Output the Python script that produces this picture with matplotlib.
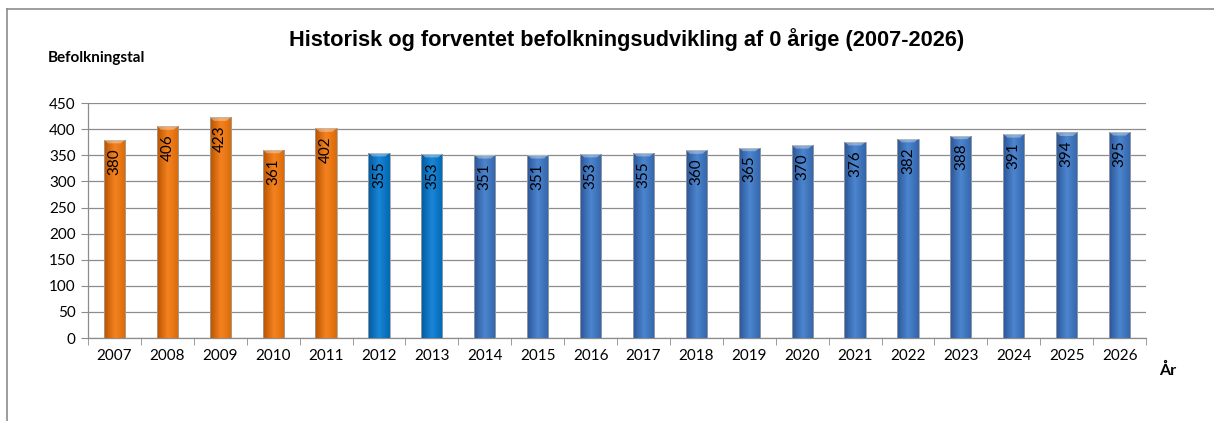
import matplotlib
matplotlib.use("Agg")
import matplotlib.pyplot as plt
import matplotlib.patches as mpatches
from matplotlib.colors import LinearSegmentedColormap
import numpy as np

# data
years = [str(y) for y in range(2007, 2027)]
values = [380, 406, 423, 361, 402, 355, 353, 351, 351, 353,
          355, 360, 365, 370, 376, 382, 388, 391, 394, 395]
groups = ['hist'] * 5 + ['prog1'] * 2 + ['prog2'] * 13
yticks = list(range(0, 451, 50))

title = 'Historisk og forventet befolkningsudvikling af 0 årige (2007-2026)'
ylabel = 'Befolkningstal'
xlabel = 'År'

# edge, middle, edge colours for the fake cylinder shading
shades = {
    'hist':  ['#B85300', '#F58220', '#D96A08'],
    'prog1': ['#005A9E', '#1A86D6', '#0068B4'],
    'prog2': ['#2B5597', '#4C86CF', '#3364AA'],
}

fig = plt.figure(figsize=(12.14, 4.21), dpi=100)
ax = fig.add_axes([0.0725, 0.197, 0.8715, 0.558])

x = np.arange(len(years))
bars = ax.bar(x, values, width=0.4, color='none', edgecolor='none', zorder=3)

for b, g, v in zip(bars, groups, values):
    cmap = LinearSegmentedColormap.from_list(g, shades[g])
    grad = np.linspace(0, 1, 64).reshape(1, -1)
    x0, w, h = b.get_x(), b.get_width(), b.get_height()
    im = ax.imshow(grad, cmap=cmap, aspect='auto', extent=(x0, x0 + w, 0, h),
                   zorder=3, interpolation='bicubic')
    im.set_clip_path(b)
    # outline
    ax.add_patch(mpatches.Rectangle((x0, 0), w, h, fill=False,
                                    edgecolor='#a0a0a0', linewidth=0.6, zorder=4))
    # lighter cap on top
    cap = mpatches.Polygon([(x0, h), (x0 + w, h), (x0 + w * 0.8, h - 7),
                            (x0 + w * 0.2, h - 7)], closed=True,
                           facecolor='white', alpha=0.35, edgecolor='none', zorder=4)
    ax.add_patch(cap)
    ax.annotate(str(v), (x0 + w / 2, h), xytext=(0, -6), textcoords='offset points',
                rotation=90, ha='center', va='top', fontsize=11, family='Lato',
                color='black', zorder=5)

ax.set_xlim(-0.5, len(years) - 0.5)
ax.set_ylim(0, 450)
ax.set_yticks(yticks)
ax.set_yticklabels([str(t) for t in yticks], family='Lato', fontsize=11)
ax.set_xticks(x)
ax.set_xticklabels(years, family='Lato', fontsize=11)
ax.tick_params(axis='x', length=0, pad=8)
ax.set_xticks(np.arange(-0.5, len(years)), minor=True)
ax.tick_params(axis='x', which='minor', length=5, color='#8c8c8c', direction='out')
ax.tick_params(axis='y', length=5, color='#8c8c8c', direction='out', pad=4)

ax.grid(axis='y', color='#8c8c8c', linewidth=0.9, zorder=0)
ax.set_axisbelow(True)
for s in ['top', 'right']:
    ax.spines[s].set_visible(False)
for s in ['left', 'bottom']:
    ax.spines[s].set_color('#8c8c8c')
    ax.spines[s].set_linewidth(0.9)

fig.text(0.516, 0.905, title, ha='center', va='center', fontsize=15.7,
         fontweight='bold', family='Liberation Sans')
fig.text(0.039, 0.862, ylabel, ha='left', va='center', fontsize=11,
         fontweight='bold', family='Lato')
fig.text(0.955, 0.12, xlabel, ha='left', va='center', fontsize=11.5,
         fontweight='bold', family='Lato')

# chart area frame (only top and left edges fall inside the image)
fig.add_artist(plt.Line2D([0.0058, 1.0], [0.979, 0.979], color='#8c8c8c', linewidth=1.2,
                          transform=fig.transFigure))
fig.add_artist(plt.Line2D([0.0058, 0.0058], [0.0, 0.979], color='#8c8c8c', linewidth=1.2,
                          transform=fig.transFigure))

fig.savefig('out.png', dpi=100)
